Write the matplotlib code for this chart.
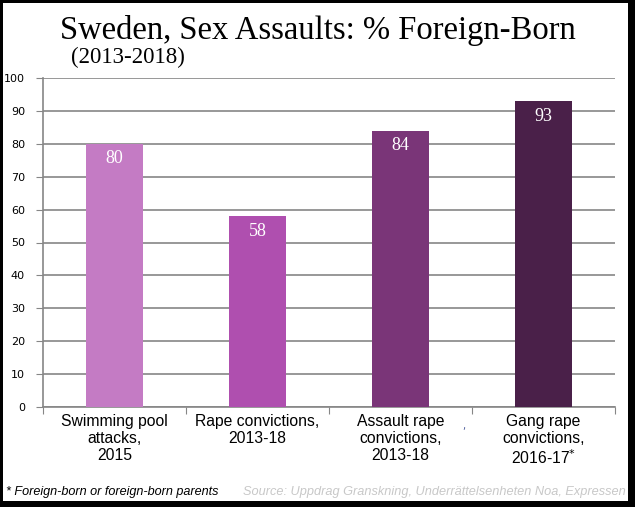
import numpy as np
import matplotlib.pyplot as plt
from matplotlib.patches import Rectangle

categories = ['Swimming pool\nattacks,\n2015', 'Rape convictions,\n2013-18',
              'Assault rape\nconvictions,\n2013-18', 'Gang rape\nconvictions,\n2016-17$^{*}$']
values = [80, 58, 84, 93]
colors = ['#C47BC4', '#AF4FAF', '#7A3578', '#4A2049']
yticks = list(range(0, 101, 10))

W, H = 635, 507
fig = plt.figure(figsize=(W / 100, H / 100), dpi=100)
fig.patch.set_facecolor('black')
# white card with dark frame
fig.patches.append(Rectangle((3 / W, 6 / H), 625 / W, 498 / H, transform=fig.transFigure,
                             facecolor='white', edgecolor='none', zorder=0))

ax = fig.add_axes([43 / W, (H - 407) / H, (615 - 43) / W, (407 - 78) / H])
ax.set_zorder(2)
ax.set_facecolor('white')

x = np.arange(len(values))
ax.bar(x, values, width=0.40, color=colors, zorder=3)
for xi, v in zip(x, values):
    ax.text(xi, v - 2.0, str(v), ha='center', va='top', color='white',
            fontsize=13, family='Liberation Serif', zorder=4)

ax.set_xlim(-0.5, len(values) - 0.5)
ax.set_ylim(0, 100)
ax.set_yticks(yticks)
ax.set_yticklabels([str(t) for t in yticks], fontsize=8, family='DejaVu Sans')
ax.yaxis.grid(True, color='#868686', linewidth=1.2, zorder=1)
ax.set_axisbelow(True)

ax.set_xticks(np.arange(-0.5, len(values), 1.0))
ax.set_xticklabels([])
ax.set_xticks(x, minor=True)
ax.set_xticklabels(categories, minor=True, fontsize=11.3, family='Liberation Sans',
                   linespacing=1.15)
ax.tick_params(axis='x', which='minor', length=0, pad=5)
ax.tick_params(axis='x', which='major', length=5, color='#868686')
ax.tick_params(axis='y', length=5, color='#868686', pad=8)

for s in ['top', 'right']:
    ax.spines[s].set_visible(False)
for s in ['left', 'bottom']:
    ax.spines[s].set_color('#868686')
    ax.spines[s].set_linewidth(1.2)

fig.text(318 / W, 1 - 31 / H, 'Sweden, Sex Assaults: % Foreign-Born', ha='center', va='center',
         fontsize=23.5, family='Liberation Serif', zorder=5)
fig.text(71 / W, 1 - 57 / H, '(2013-2018)', ha='left', va='center',
         fontsize=16.5, family='Liberation Serif', zorder=5)

fig.text(6 / W, 1 - 492 / H, '* Foreign-born or foreign-born parents', ha='left', va='center',
         fontsize=9.1, style='italic', family='Liberation Sans', zorder=5)
fig.text(626 / W, 1 - 492 / H, 'Source: Uppdrag Granskning, Underrättelsenheten Noa, Expressen',
         ha='right', va='center', fontsize=9.2, style='italic', family='Liberation Sans',
         color='#C8C8C8', zorder=5)
fig.text(464 / W, 1 - 426 / H, ',', ha='center', va='center', fontsize=7, color='#4A5A9A', zorder=5)

fig.savefig('out.png', dpi=100, facecolor=fig.get_facecolor())
